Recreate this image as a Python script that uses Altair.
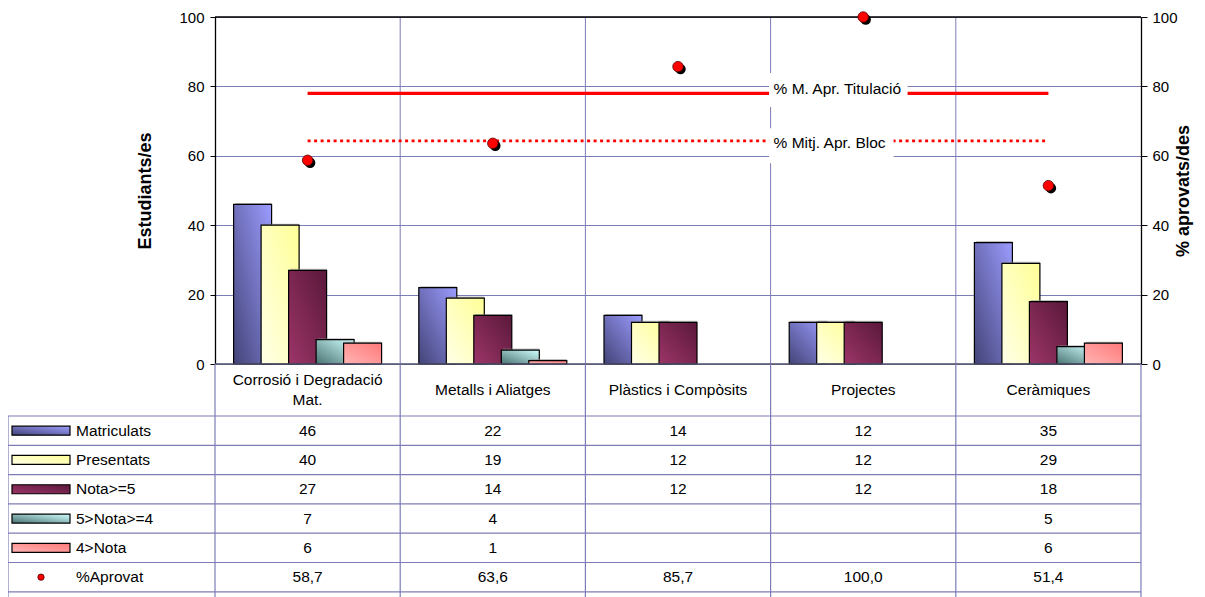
import textwrap
import pandas as pd
import altair as alt

# ---------------- data ----------------
categories = ["Corrosió i Degradació Mat.", "Metalls i Aliatges", "Plàstics i Compòsits",
              "Projectes", "Ceràmiques"]
series = ["Matriculats", "Presentats", "Nota>=5", "5>Nota>=4", "4>Nota"]
matriculats = [46, 22, 14, 12, 35]
presentats = [40, 19, 12, 12, 29]
nota_ge5 = [27, 14, 12, 12, 18]
nota_4_5 = [7, 4, None, None, 5]
nota_lt4 = [6, 1, None, None, 6]
pct_label = "%Aprovat"
pct_aprovat = [58.7, 63.6, 85.7, 100.0, 51.4]
ref_names = ["% M. Apr. Titulació", "% Mitj. Apr. Bloc"]
ref_values = [78.0, 64.3]
ytick_values = [0, 20, 40, 60, 80, 100]

series_values = [matriculats, presentats, nota_ge5, nota_4_5, nota_lt4]

# ---------------- styles ----------------
FONT = "Liberation Sans"
GRID = "#7c7cb6"
FS = 15
W, H = 926, 347
n = len(categories)
CW = W / n                      # px per category
ROW_PX = 29.3
HEADER_ROWS = 52 / ROW_PX
TABLE_PX = 233
TABLE_ROWS = TABLE_PX / ROW_PX
LEG = 207 / CW                  # legend column width (category units)
BAR_W = 38 / CW
BAR_STEP = 27.5 / CW
PXV = H / 100                   # px per value unit
HEAD_LH = 20                    # header line height px

grad_from = ["#434378", "#ffffe8", "#9c3568", "#4a7272", "#ffb4b4"]
grad_to = ["#9c9cff", "#ffff96", "#5a183a", "#d0ffff", "#ff7a7a"]


def grad(c0, c1):
    return alt.Gradient(gradient="linear",
                        stops=[alt.GradientStop(color=c0, offset=0),
                               alt.GradientStop(color=c1, offset=1)],
                        x1=0, y1=1, x2=1, y2=0)


def xs_():
    return alt.Scale(domain=[0, n], nice=False, zero=False)


def yv_():
    return alt.Scale(domain=[0, 100], nice=False, zero=False)


def yt_():
    return alt.Scale(domain=[0, TABLE_ROWS], range=[H, H + TABLE_PX], nice=False, zero=False)


def X(f="x:Q"):
    return alt.X(f, scale=xs_(), axis=None)


def YV(f="v:Q", axis=None):
    return alt.Y(f, scale=yv_(), axis=axis)


def YT(f="y:Q"):
    return alt.Y(f, scale=yt_(), axis=None)


left_axis = alt.Axis(orient="left", values=ytick_values, grid=True, gridColor=GRID, gridWidth=1,
                     domainColor="black", domainWidth=1.3, tickColor="black", tickSize=5,
                     labelFont=FONT, labelFontSize=FS, labelColor="black", labelPadding=6,
                     title="Estudiants/es", titleFont=FONT, titleFontSize=18, titleFontWeight="bold",
                     titleColor="black", titleAngle=270, titleX=-70, titleBaseline="middle",
                     titleAlign="center")
right_axis = alt.Axis(orient="right", values=ytick_values, grid=False,
                      domainColor="black", domainWidth=1.3, tickColor="black", tickSize=6,
                      labelFont=FONT, labelFontSize=FS, labelColor="black", labelPadding=5,
                      title="% aprovats/des", titleFont=FONT, titleFontSize=18, titleFontWeight="bold",
                      titleColor="black", titleAngle=270, titleX=42, titleBaseline="middle",
                      titleAlign="center")

layers = []

# ---------------- axes carriers + plot grid ----------------
vgrid_df = pd.DataFrame({"x": list(range(1, n)), "v": 0, "v2": 100})
layers.append(alt.Chart(vgrid_df).mark_rule(color=GRID, strokeWidth=1).encode(
    x=X(), y=YV("v:Q", left_axis), y2="v2:Q"))

# ---------------- bars ----------------
rows = []
for k, s in enumerate(series):
    for i, c in enumerate(categories):
        v = series_values[k][i]
        if v is None:
            continue
        xc = i + 0.5 + (k - (len(series) - 1) / 2) * BAR_STEP
        rows.append(dict(series=s, cat=c, x=xc - BAR_W / 2, x2=xc + BAR_W / 2, v=v, base=0))
bars_df = pd.DataFrame(rows)

for k, s in enumerate(series):
    d = bars_df[bars_df.series == s]
    layers.append(alt.Chart(d).mark_rect(fill="#8a8a8a", opacity=0.55, xOffset=1.5,
                                         yOffset=-1.5).encode(x=X(), x2="x2:Q", y=YV(), y2="base:Q"))
    layers.append(alt.Chart(d).mark_rect(fill=grad(grad_from[k], grad_to[k]), stroke="black",
                                         strokeWidth=1.2).encode(x=X(), x2="x2:Q", y=YV(), y2="base:Q"))

border_df = pd.DataFrame({"x": [0], "x2": [n], "top": [100], "bottom": [0]})
layers.append(alt.Chart(border_df).mark_rule(color="black", strokeWidth=1.3).encode(
    x=X(), x2="x2:Q", y=YV("top:Q")))
layers.append(alt.Chart(border_df).mark_rule(color="#50506a", strokeWidth=1.6).encode(
    x=X(), x2="x2:Q", y=YV("bottom:Q")))

# ---------------- reference lines + labels ----------------
ref_style = [
    dict(dash=[1, 0], width=3.2, dy=-4.3, box_w=137, box_top=20.3, box_bot=13.7),
    dict(dash=[3, 3.5], width=2.6, dy=2.3, box_w=123, box_top=12.7, box_bot=22.3),
]
for j, (name, val) in enumerate(zip(ref_names, ref_values)):
    st = ref_style[j]
    ld = pd.DataFrame({"x": [0.5], "x2": [n - 0.5], "v": [val]})
    layers.append(alt.Chart(ld).mark_rule(color="#ff0000", strokeWidth=st["width"],
                                          strokeDash=st["dash"]).encode(
        x=X(), x2="x2:Q", y=YV("v:Q", right_axis if j == 0 else None)))
for j, (name, val) in enumerate(zip(ref_names, ref_values)):
    st = ref_style[j]
    lab_x = 3.0
    bd = pd.DataFrame({"x": [lab_x - 1.5 / CW], "x2": [lab_x + st["box_w"] / CW],
                       "v": [val + st["box_top"] / PXV], "v2": [val - st["box_bot"] / PXV]})
    layers.append(alt.Chart(bd).mark_rect(fill="white").encode(
        x=X(), x2="x2:Q", y=YV(), y2="v2:Q"))
    td = pd.DataFrame({"x": [lab_x], "v": [val], "t": [name]})
    layers.append(alt.Chart(td).mark_text(align="left", baseline="middle", dx=3, dy=st["dy"],
                                          font=FONT, fontSize=FS + 0.5, color="black").encode(
        x=X(), y=YV(), text="t:N"))

# ---------------- % aprovat dots ----------------
dots_df = pd.DataFrame({"x": [i + 0.5 for i in range(n)], "v": pct_aprovat})
layers.append(alt.Chart(dots_df).mark_circle(size=110, color="black", opacity=1,
                                             xOffset=2.5, yOffset=2.5).encode(x=X(), y=YV()))
layers.append(alt.Chart(dots_df).mark_circle(size=110, color="#ff0000", opacity=1,
                                             stroke="#500000", strokeWidth=0.8).encode(x=X(), y=YV()))

# ---------------- data table ----------------
row_labels = series + [pct_label]
table_rows = []
for k, lab in enumerate(row_labels):
    vals = series_values[k] if k < len(series) else pct_aprovat
    for i in range(n):
        v = vals[i]
        if v is None:
            txt = ""
        elif k < len(series):
            txt = str(v)
        else:
            txt = f"{v:.1f}".replace(".", ",")
        table_rows.append(dict(x=i + 0.5, y=HEADER_ROWS + k + 0.5, t=txt))
cells_df = pd.DataFrame(table_rows)

head_lines = [textwrap.wrap(c, 22) for c in categories]
header_df = pd.DataFrame({
    "x": [i + 0.5 for i in range(n)],
    "y": [HEADER_ROWS / 2 - (len(hl) - 1) * HEAD_LH / 2 / ROW_PX for hl in head_lines],
    "t": ["\n".join(hl) for hl in head_lines]})

hlines_df = pd.DataFrame({"x": -LEG, "x2": n, "y": [HEADER_ROWS + k for k in range(len(row_labels) + 1)]})
vlines_df = pd.DataFrame({"x": [-LEG] + list(range(0, n + 1)),
                          "y": [HEADER_ROWS] + [0] * (n + 1), "y2": TABLE_ROWS})

LEG_SW_X1 = (12 - 215) / CW
LEG_SW_X2 = (70 - 215) / CW
LEG_TXT_X = (76 - 215) / CW
LEG_DOT_X = (41 - 215) / CW
SW_HALF = 4.5 / ROW_PX

leg_lab_df = pd.DataFrame({"x": LEG_TXT_X, "y": [HEADER_ROWS + k + 0.5 for k in range(len(row_labels))],
                           "t": row_labels})

layers += [
    alt.Chart(hlines_df).mark_rule(color=GRID, strokeWidth=1.2).encode(x=X(), x2="x2:Q", y=YT()),
    alt.Chart(vlines_df).mark_rule(color=GRID, strokeWidth=1.2).encode(x=X(), y=YT(), y2="y2:Q"),
    alt.Chart(header_df).mark_text(align="center", baseline="middle", lineBreak="\n", lineHeight=HEAD_LH,
                                   font=FONT, fontSize=FS + 0.5, color="black").encode(
        x=X(), y=YT(), text="t:N"),
    alt.Chart(cells_df).mark_text(align="center", baseline="middle", font=FONT, fontSize=FS + 0.5,
                                  color="black").encode(x=X(), y=YT(), text="t:N"),
    alt.Chart(leg_lab_df).mark_text(align="left", baseline="middle", font=FONT, fontSize=FS + 0.5,
                                    color="black").encode(x=X(), y=YT(), text="t:N"),
]
for k, s in enumerate(series):
    sd = pd.DataFrame({"x": [LEG_SW_X1], "x2": [LEG_SW_X2],
                       "y": [HEADER_ROWS + k + 0.5 - SW_HALF], "y2": [HEADER_ROWS + k + 0.5 + SW_HALF]})
    layers.append(alt.Chart(sd).mark_rect(fill=grad(grad_from[k], grad_to[k]), stroke="black",
                                          strokeWidth=1.2).encode(x=X(), x2="x2:Q", y=YT(), y2="y2:Q"))
ldot = pd.DataFrame({"x": [LEG_DOT_X], "y": [HEADER_ROWS + len(series) + 0.5]})
layers.append(alt.Chart(ldot).mark_circle(size=40, color="#ff0000", opacity=1, stroke="#400000",
                                          strokeWidth=0.8).encode(x=X(), y=YT()))

chart = alt.layer(*layers).resolve_scale(y="independent").properties(
    width=W, height=H,
    autosize=alt.AutoSizeParams(type="none"),
    padding={"left": 207, "top": 9, "right": 56, "bottom": 233},
).configure_view(stroke=None)

chart.save("out.html", embed_options={"renderer": "svg", "actions": False})
